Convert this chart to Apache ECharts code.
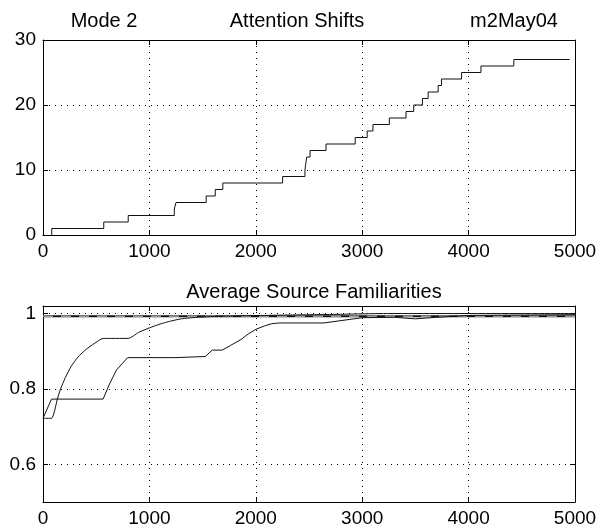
<!DOCTYPE html>
<html>
<head>
<meta charset="utf-8">
<script src="https://cdn.jsdelivr.net/npm/echarts@6/dist/echarts.min.js"></script>
<style>
  html, body { margin: 0; padding: 0; background: #fff; }
  #chart { width: 605px; height: 531px; }
</style>
</head>
<body>
<div id="chart"></div>
<script>
// attention shifts (step counts over time)
var shiftTimes = [82, 82, 571, 801, 1234, 1250, 1534, 1619, 1690, 2252, 2462, 2470, 2478, 2510, 2660, 2934, 3047, 3101, 3255, 3412, 3484, 3566, 3620, 3714, 3745, 3934, 4116, 4425, 4950]
var shiftCounts = [0, 1, 2, 3, 4, 5, 6, 7, 8, 9, 10, 11, 12, 13, 14, 15, 16, 17, 18, 19, 20, 21, 22, 23, 24, 25, 26, 27, 27]

// familiarity curves
var famTimeA = [0, 80, 135, 165, 210, 265, 330, 405, 480, 565, 800, 900, 1000, 1100, 1200, 1300, 1450, 1700, 2300, 2800, 3200, 5000]
var famValA = [0.722, 0.722, 0.773, 0.80, 0.83, 0.86, 0.885, 0.905, 0.92, 0.934, 0.934, 0.95, 0.962, 0.972, 0.98, 0.986, 0.99, 0.993, 0.996, 0.998, 1.0, 1.0]
var famTimeB = [0, 80, 565, 620, 690, 795, 1240, 1250, 1525, 1590, 1685, 1760, 1860, 1930, 2000, 2080, 2150, 2220, 2640, 3000, 3300, 3500, 3700, 4000, 5000]
var famValB = [0.722, 0.773, 0.773, 0.81, 0.85, 0.883, 0.883, 0.886, 0.886, 0.903, 0.903, 0.915, 0.931, 0.946, 0.958, 0.967, 0.973, 0.975, 0.975, 0.989, 0.99, 0.986, 0.99, 0.995, 0.997]
var famTimeFlat = [0, 5000]
var famValFlat = [0.993, 0.993]

var famTicks = [0.6, 0.8, 1]

function zip(xs, ys) {
    return xs.map(function (x, i) { return [x, ys[i]] })
}

var font = 'Liberation Sans, Arial, sans-serif'
var tickFont = {color: '#000', fontSize: 19, fontFamily: font}
var dotted = {color: '#000', type: [1, 5], width: 1}

function xAx(grid, pos, labels) {
    return {
        type: 'value', gridIndex: grid, position: pos, min: 0, max: 5000, interval: 1000,
        axisLine: {show: true, onZero: false, lineStyle: {color: '#000', width: 1}},
        axisTick: {show: true, inside: true, length: 5, lineStyle: {color: '#000'}},
        axisLabel: labels ? Object.assign({margin: 7, formatter: function (v) { return String(v) }}, tickFont) : {show: false},
        splitLine: labels ? {show: true, lineStyle: dotted} : {show: false}
    }
}

function yAx(grid, pos, labels, min, max, interval) {
    return {
        type: 'value', gridIndex: grid, position: pos, min: min, max: max, interval: interval,
        axisLine: {show: true, onZero: false, lineStyle: {color: '#000', width: 1}},
        axisTick: {show: true, inside: true, length: 5, lineStyle: {color: '#000'}},
        axisLabel: labels ? Object.assign({margin: 7}, tickFont) : {show: false},
        splitLine: labels ? {show: true, lineStyle: dotted} : {show: false}
    }
}

// lower y axis: 0.5..1.02, labels/ticks only at 0.6, 0.8, 1
function famAx(pos, labels) {
    return {
        type: 'value', gridIndex: 1, position: pos, min: 0.5, max: 1.02, interval: 0.1,
        axisLine: {show: true, onZero: false, lineStyle: {color: '#000', width: 1}},
        axisTick: {show: true, inside: true, length: 5, customValues: famTicks, lineStyle: {color: '#000'}},
        axisLabel: labels ? Object.assign({
            margin: 7, customValues: famTicks,
            formatter: function (v) {
                for (var i = 0; i < famTicks.length; i++) {
                    if (Math.abs(v - famTicks[i]) < 1e-6) return String(famTicks[i])
                }
                return ''
            }
        }, tickFont) : {show: false},
        splitLine: {show: false}
    }
}

var chart = echarts.init(document.getElementById('chart'), null, {renderer: 'canvas'})

var titleStyle = {color: '#000', fontSize: 20, fontWeight: 'normal', fontFamily: font}

chart.setOption({
    animation: false,
    backgroundColor: '#fff',
    title: [
        {text: 'Mode 2', left: 99, top: 6, textAlign: 'center', textStyle: titleStyle},
        {text: 'Attention Shifts', left: 292, top: 6, textAlign: 'center', textStyle: titleStyle},
        {text: 'm2May04', left: 509, top: 6, textAlign: 'center', textStyle: titleStyle},
        {text: 'Average Source Familiarities', left: 309, top: 277, textAlign: 'center', textStyle: titleStyle}
    ],
    grid: [
        {left: 43, right: 30, top: 40, height: 195},
        {left: 43, right: 30, top: 306, height: 196}
    ],
    xAxis: [
        xAx(0, 'bottom', true), xAx(0, 'top', false),
        xAx(1, 'bottom', true), xAx(1, 'top', false)
    ],
    yAxis: [
        yAx(0, 'left', true, 0, 30, 10),
        yAx(0, 'right', false, 0, 30, 10),
        famAx('left', true),
        famAx('right', false)
    ],
    series: [
        {
            type: 'line', xAxisIndex: 0, yAxisIndex: 0, step: 'end', symbol: 'none',
            lineStyle: {color: '#111', width: 1}, data: zip(shiftTimes, shiftCounts)
        },
        {
            type: 'line', xAxisIndex: 2, yAxisIndex: 2, symbol: 'none',
            lineStyle: {color: '#111', width: 2}, data: zip(famTimeFlat, famValFlat),
            // horizontal grid lines of the lower plot
            markLine: {
                silent: true, symbol: 'none', label: {show: false}, z: 0,
                lineStyle: dotted,
                data: famTicks.map(function (v) { return {yAxis: v} })
            }
        },
        {
            type: 'line', xAxisIndex: 2, yAxisIndex: 2, symbol: 'none',
            lineStyle: {color: '#999', width: 1.5, type: [10, 8]}, data: zip(famTimeFlat, famValFlat)
        },
        {
            type: 'line', xAxisIndex: 2, yAxisIndex: 2, symbol: 'none', smooth: 0.2,
            lineStyle: {color: '#111', width: 1}, data: zip(famTimeA, famValA)
        },
        {
            type: 'line', xAxisIndex: 2, yAxisIndex: 2, symbol: 'none',
            lineStyle: {color: '#111', width: 1}, data: zip(famTimeB, famValB)
        }
    ]
})
</script>
</body>
</html>
